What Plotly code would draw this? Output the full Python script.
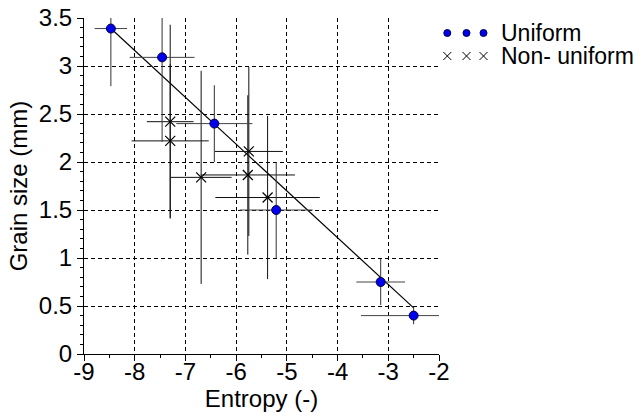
import plotly.graph_objects as go

# ---- data ----
u_x = [-8.47, -7.46, -6.43, -5.21, -3.15, -2.50]
u_y = [3.39, 3.09, 2.40, 1.50, 0.75, 0.40]
u_xerr = [0.32, 0.64, 0.75, 0.72, 0.48, 1.04]
u_yerr = [0.60, 0.88, 0.40, 0.50, 0.24, 0.09]

n_x = [-7.30, -7.30, -6.69, -5.75, -5.77, -5.38]
n_y = [2.42, 2.22, 1.84, 2.11, 1.865, 1.63]
n_xerr = [0.46, 0.76, 0.60, 0.67, 0.93, 1.03]
n_yerr = [1.01, 0.80, 1.11, 0.88, 0.83, 0.85]

fit_x = [-8.47, -2.50]
fit_y = [3.39, 0.48]

x_ticks = [-9, -8, -7, -6, -5, -4, -3, -2]
y_ticks = [0, 0.5, 1, 1.5, 2, 2.5, 3, 3.5]
legend_names = ["Uniform", "Non- uniform"]

FONT = "Liberation Sans, Arial, sans-serif"
FS = 24
W, H = 642, 413
L, R, T, B = 84, 0, 18, 59
plot_w = W - L - R
x_end = (439 - L) / plot_w

fig = go.Figure()

err_style = dict(type="data", symmetric=True, color="#111111", thickness=1, width=0)

fig.add_trace(go.Scatter(
    x=fit_x, y=fit_y, mode="lines",
    line=dict(color="black", width=1.2), showlegend=False, hoverinfo="skip"))

fig.add_trace(go.Scatter(
    x=n_x, y=n_y, mode="markers", name=legend_names[1],
    marker=dict(symbol="x-thin", size=10, line=dict(color="black", width=1.2)),
    error_x=dict(array=n_xerr, **err_style),
    error_y=dict(array=n_yerr, **err_style),
    showlegend=False))

fig.add_trace(go.Scatter(
    x=u_x, y=u_y, mode="markers", name=legend_names[0],
    marker=dict(symbol="circle", size=9, color="#0000ee", line=dict(color="#000044", width=1)),
    error_x=dict(array=u_xerr, **{**err_style, "color": "#444444"}),
    error_y=dict(array=u_yerr, **{**err_style, "color": "#333333"}),
    showlegend=False))

# ---- hand-drawn legend (three symbols per entry, like the reference) ----
leg_sym_x = [8.3, 27.5, 44.5]
leg_y = [33.0, 56.0]
fig.add_trace(go.Scatter(
    x=leg_sym_x, y=[leg_y[0]] * 3, xaxis="x2", yaxis="y2", mode="markers",
    marker=dict(symbol="circle", size=7, color="#0000ee", line=dict(color="#000044", width=1)),
    showlegend=False, hoverinfo="skip"))
fig.add_trace(go.Scatter(
    x=leg_sym_x, y=[leg_y[1]] * 3, xaxis="x2", yaxis="y2", mode="markers",
    marker=dict(symbol="x-thin", size=8, line=dict(color="black", width=1)),
    showlegend=False, hoverinfo="skip"))
for name, ly in zip(legend_names, leg_y):
    fig.add_annotation(x=60, y=ly, xref="x2", yref="y2", text=name, showarrow=False,
                       xanchor="left", yanchor="middle",
                       font=dict(family=FONT, size=23, color="black"))

axis_common = dict(
    showline=True, linecolor="black", linewidth=1, mirror=False,
    ticks="outside", ticklen=6, tickwidth=1, tickcolor="black",
    showgrid=True, gridcolor="black", gridwidth=1, griddash="4px,3px",
    zeroline=False, automargin=False,
    tickfont=dict(family=FONT, size=FS, color="black"),
)

fig.update_layout(
    template="none",
    width=W, height=H,
    margin=dict(l=L, r=R, t=T, b=B, pad=0),
    paper_bgcolor="white", plot_bgcolor="white",
    font=dict(family=FONT, size=FS, color="black"),
    showlegend=False,
    xaxis=dict(
        domain=[0, x_end], range=[-9, -2], tickvals=x_ticks,
        ticktext=[str(v) for v in x_ticks], ticklabelstandoff=-10,
        minor=dict(dtick=0.5, ticklen=3, ticks="outside", tickcolor="black", showgrid=False),
        title=dict(text="Entropy (-)", font=dict(family=FONT, size=FS), standoff=0),
        **axis_common),
    yaxis=dict(
        domain=[0, 1], range=[0, 3.5], tickvals=y_ticks,
        ticktext=[("%g" % v) for v in y_ticks],
        minor=dict(dtick=0.1, ticklen=3, ticks="outside", tickcolor="black", showgrid=False),
        title=dict(text="Grain size (mm)", font=dict(family=FONT, size=FS), standoff=4),
        **axis_common),
    xaxis2=dict(domain=[x_end, 1], range=[0, W - 439], visible=False, fixedrange=True,
                anchor="y2"),
    yaxis2=dict(domain=[0, 1], range=[H - B, T], visible=False, fixedrange=True,
                anchor="x2"),
)

fig.write_html("out.html", config={"displayModeBar": False},
               post_script="document.body.style.margin='0';")
